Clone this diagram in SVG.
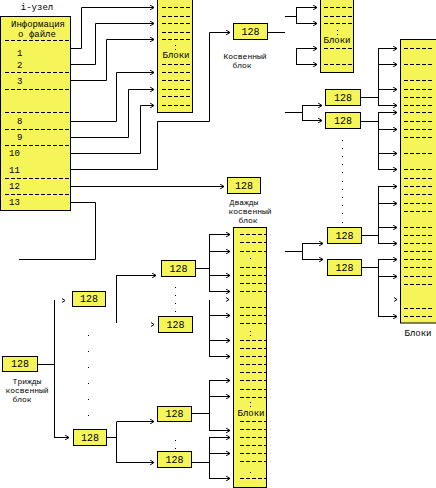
<svg xmlns="http://www.w3.org/2000/svg" width="436" height="488" viewBox="0 0 436 488">
<style>
.bx{fill:#f5f55a;stroke:#000;stroke-width:1}
.ds{stroke:#000;stroke-width:1;stroke-dasharray:4,2;fill:none}
.ln{fill:none;stroke:#000;stroke-width:1}
.ar{fill:none;stroke:#000;stroke-width:1;marker-end:url(#a)}
.ah{fill:none;stroke:#000;stroke-width:1}
.dt{fill:#000}
text{font-family:"Liberation Mono","DejaVu Sans Mono",monospace;fill:#000}
.n{font-size:10px;text-anchor:middle}
.s{font-size:9px}
.c{font-size:9px;text-anchor:middle}
.l{font-size:8px;text-anchor:middle}
</style>
<defs>
<marker id="a" viewBox="0 0 4 5" refX="4" refY="2.5" markerWidth="4" markerHeight="5" markerUnits="userSpaceOnUse" orient="auto">
<path d="M0,0 L4,2.5 L0,5" fill="none" stroke="#000" stroke-width="1"/>
</marker>
</defs>
<rect width="436" height="488" fill="#fff"/>

<g id="connectors">
<polyline class="ar" points="71,48.5 81.5,48.5 81.5,7.5 154,7.5"/>
<polyline class="ar" points="71,64.5 95.5,64.5 95.5,23.5 154,23.5"/>
<polyline class="ar" points="71,80.5 106.5,80.5 106.5,39.5 154,39.5"/>
<polyline class="ar" points="71,121.5 116.5,121.5 116.5,72.5 154,72.5"/>
<polyline class="ar" points="71,137.5 128.5,137.5 128.5,89.5 154,89.5"/>
<polyline class="ar" points="71,153.5 140.5,153.5 140.5,105.5 154,105.5"/>
<polyline class="ar" points="71,169.5 157.5,169.5 157.5,121.5 209.5,121.5 209.5,32.5 230,32.5"/>
<polyline class="ar" points="71,186.5 224,186.5"/>
<polyline class="ln" points="71,202.5 95.5,202.5 95.5,259.5 19,259.5"/>

<line class="ln" x1="268" y1="32.5" x2="285" y2="32.5"/>
<line class="ln" x1="285" y1="16.5" x2="296.5" y2="16.5"/>
<line class="ln" x1="296.5" y1="7" x2="296.5" y2="24"/>
<line class="ar" x1="296.5" y1="7.5" x2="317" y2="7.5"/>
<line class="ar" x1="296.5" y1="23.5" x2="317" y2="23.5"/>
<line class="ln" x1="296.5" y1="48" x2="296.5" y2="65"/>
<line class="ar" x1="296.5" y1="48.5" x2="317" y2="48.5"/>
<line class="ar" x1="296.5" y1="64.5" x2="317" y2="64.5"/>

<line class="ln" x1="285" y1="112.5" x2="302.5" y2="112.5"/>
<line class="ln" x1="302.5" y1="105" x2="302.5" y2="121"/>
<line class="ar" x1="302.5" y1="105.5" x2="322" y2="105.5"/>
<line class="ar" x1="302.5" y1="120.5" x2="322" y2="120.5"/>
<line class="ln" x1="361" y1="97.5" x2="378.5" y2="97.5"/>
<line class="ln" x1="378.5" y1="48" x2="378.5" y2="106"/>
<line class="ar" x1="378.5" y1="48.5" x2="397" y2="48.5"/>
<line class="ar" x1="378.5" y1="64.5" x2="397" y2="64.5"/>
<line class="ar" x1="378.5" y1="89.5" x2="397" y2="89.5"/>
<line class="ar" x1="378.5" y1="105.5" x2="397" y2="105.5"/>
<line class="ln" x1="361" y1="121.5" x2="378.5" y2="121.5"/>
<line class="ln" x1="378.5" y1="112" x2="378.5" y2="170"/>
<line class="ar" x1="378.5" y1="112.5" x2="397" y2="112.5"/>
<line class="ar" x1="378.5" y1="129.5" x2="397" y2="129.5"/>
<line class="ar" x1="378.5" y1="153.5" x2="397" y2="153.5"/>
<line class="ar" x1="378.5" y1="169.5" x2="397" y2="169.5"/>

<line class="ln" x1="285" y1="251.5" x2="302.5" y2="251.5"/>
<line class="ln" x1="302.5" y1="243" x2="302.5" y2="260"/>
<line class="ar" x1="302.5" y1="243.5" x2="323" y2="243.5"/>
<line class="ar" x1="302.5" y1="259.5" x2="323" y2="259.5"/>
<line class="ln" x1="362" y1="235.5" x2="378.5" y2="235.5"/>
<line class="ln" x1="378.5" y1="186" x2="378.5" y2="244"/>
<line class="ar" x1="378.5" y1="186.5" x2="397" y2="186.5"/>
<line class="ar" x1="378.5" y1="203.5" x2="397" y2="203.5"/>
<line class="ar" x1="378.5" y1="227.5" x2="397" y2="227.5"/>
<line class="ar" x1="378.5" y1="243.5" x2="397" y2="243.5"/>
<line class="ln" x1="362" y1="267.5" x2="378.5" y2="267.5"/>
<line class="ln" x1="378.5" y1="259" x2="378.5" y2="317"/>
<line class="ar" x1="378.5" y1="259.5" x2="397" y2="259.5"/>
<line class="ar" x1="378.5" y1="276.5" x2="397" y2="276.5"/>
<line class="ar" x1="378.5" y1="316.5" x2="397" y2="316.5"/>
<path class="ah" d="M394,297.5 L397,299.5 L394,301.5"/>

<line class="ln" x1="196" y1="268.5" x2="209.5" y2="268.5"/>
<line class="ln" x1="209.5" y1="234" x2="209.5" y2="292"/>
<line class="ar" x1="209.5" y1="234.5" x2="230" y2="234.5"/>
<line class="ar" x1="209.5" y1="251.5" x2="230" y2="251.5"/>
<line class="ar" x1="209.5" y1="275.5" x2="230" y2="275.5"/>
<line class="ar" x1="209.5" y1="291.5" x2="230" y2="291.5"/>
<path class="ah" d="M226,297.5 L229,299.5 L226,301.5"/>
<line class="ln" x1="209.5" y1="300" x2="209.5" y2="357"/>
<line class="ar" x1="209.5" y1="315.5" x2="230" y2="315.5"/>
<line class="ar" x1="209.5" y1="340.5" x2="230" y2="340.5"/>
<line class="ar" x1="209.5" y1="356.5" x2="230" y2="356.5"/>
<line class="ln" x1="192" y1="413.5" x2="209.5" y2="413.5"/>
<line class="ln" x1="209.5" y1="380" x2="209.5" y2="431"/>
<line class="ar" x1="209.5" y1="380.5" x2="230" y2="380.5"/>
<line class="ar" x1="209.5" y1="396.5" x2="230" y2="396.5"/>
<line class="ar" x1="209.5" y1="430.5" x2="230" y2="430.5"/>
<line class="ln" x1="192" y1="462.5" x2="209.5" y2="462.5"/>
<line class="ln" x1="209.5" y1="437" x2="209.5" y2="479"/>
<line class="ar" x1="209.5" y1="437.5" x2="230" y2="437.5"/>
<line class="ar" x1="209.5" y1="453.5" x2="230" y2="453.5"/>
<line class="ar" x1="209.5" y1="478.5" x2="230" y2="478.5"/>

<line class="ln" x1="116.5" y1="275" x2="116.5" y2="323"/>
<line class="ar" x1="116.5" y1="275.5" x2="156" y2="275.5"/>
<path class="ah" d="M151,322.5 L154,324.5 L151,326.5"/>
<line class="ln" x1="107" y1="437.5" x2="116.5" y2="437.5"/>
<line class="ln" x1="116.5" y1="422" x2="116.5" y2="463"/>
<line class="ar" x1="116.5" y1="421.5" x2="154" y2="421.5"/>
<line class="ar" x1="116.5" y1="462.5" x2="154" y2="462.5"/>

<line class="ln" x1="38" y1="364.5" x2="54.5" y2="364.5"/>
<line class="ln" x1="54.5" y1="300" x2="54.5" y2="438"/>
<path class="ah" d="M62,298.5 L65,300.5 L62,302.5"/>
<line class="ar" x1="54.5" y1="437.5" x2="69" y2="437.5"/>
</g>

<g id="inode">
<text class="c" x="37" y="10">i-узел</text>
<rect class="bx" x="0.5" y="16.5" width="70" height="194"/>
<text class="c" x="38" y="27">Информация</text>
<text class="c" x="37" y="37">о файле</text>
<line class="ds" x1="5" y1="40.5" x2="69" y2="40.5"/>
<line class="ds" x1="5" y1="72.5" x2="69" y2="72.5"/>
<line class="ds" x1="5" y1="89.5" x2="69" y2="89.5"/>
<line class="ds" x1="5" y1="112.5" x2="69" y2="112.5"/>
<line class="ds" x1="5" y1="129.5" x2="69" y2="129.5"/>
<line class="ds" x1="5" y1="145.5" x2="69" y2="145.5"/>
<line class="ds" x1="5" y1="178.5" x2="69" y2="178.5"/>
<line class="ds" x1="5" y1="194.5" x2="69" y2="194.5"/>
<text class="s" x="17" y="56">1</text>
<text class="s" x="17" y="68">2</text>
<text class="s" x="17" y="84">3</text>
<text class="s" x="17" y="124">8</text>
<text class="s" x="17" y="140">9</text>
<text class="s" x="9" y="156">10</text>
<text class="s" x="9" y="173">11</text>
<text class="s" x="9" y="189">12</text>
<text class="s" x="9" y="205">13</text>
</g>

<g id="direct-blocks">
<rect class="bx" x="157.5" y="-1" width="35" height="113.5"/>
<line class="ds" x1="162" y1="7.5" x2="190" y2="7.5"/>
<line class="ds" x1="162" y1="16.5" x2="190" y2="16.5"/>
<line class="ds" x1="162" y1="23.5" x2="190" y2="23.5"/>
<line class="ds" x1="162" y1="32.5" x2="190" y2="32.5"/>
<line class="ds" x1="162" y1="39.5" x2="190" y2="39.5"/>
<rect class="dt" x="175" y="45" width="1" height="1"/>
<rect class="dt" x="175" y="49" width="1" height="1"/>
<text class="c" x="176" y="58">Блоки</text>
<line class="ds" x1="162" y1="64.5" x2="190" y2="64.5"/>
<line class="ds" x1="162" y1="72.5" x2="190" y2="72.5"/>
<line class="ds" x1="162" y1="80.5" x2="190" y2="80.5"/>
<line class="ds" x1="162" y1="89.5" x2="190" y2="89.5"/>
<line class="ds" x1="162" y1="96.5" x2="190" y2="96.5"/>
<line class="ds" x1="162" y1="105.5" x2="190" y2="105.5"/>
</g>

<g id="indirect">
<rect class="bx" x="233.5" y="23.5" width="34" height="16"/>
<text class="n" x="250.5" y="35">128</text>
<text class="l" x="245" y="59">Косвенный</text>
<text class="l" x="242" y="68">блок</text>
</g>

<g id="blocks-2">
<rect class="bx" x="320.5" y="-1" width="33" height="73.5"/>
<line class="ds" x1="324" y1="7.5" x2="352" y2="7.5"/>
<line class="ds" x1="324" y1="16.5" x2="352" y2="16.5"/>
<line class="ds" x1="324" y1="23.5" x2="352" y2="23.5"/>
<rect class="dt" x="337" y="30" width="1" height="1"/>
<rect class="dt" x="337" y="34" width="1" height="1"/>
<text class="c" x="337" y="43">Блоки</text>
<line class="ds" x1="324" y1="48.5" x2="352" y2="48.5"/>
<line class="ds" x1="324" y1="64.5" x2="352" y2="64.5"/>
</g>

<g id="blocks-3">
<rect class="bx" x="400.5" y="39.5" width="37" height="283.5"/>
<line class="ds" x1="404" y1="48.5" x2="434" y2="48.5"/>
<line class="ds" x1="404" y1="64.5" x2="434" y2="64.5"/>
<line class="ds" x1="404" y1="80.5" x2="434" y2="80.5"/>
<line class="ds" x1="404" y1="89.5" x2="434" y2="89.5"/>
<line class="ds" x1="404" y1="97.5" x2="434" y2="97.5"/>
<line class="ds" x1="404" y1="105.5" x2="434" y2="105.5"/>
<line class="ds" x1="404" y1="112.5" x2="434" y2="112.5"/>
<line class="ds" x1="404" y1="121.5" x2="434" y2="121.5"/>
<line class="ds" x1="404" y1="129.5" x2="434" y2="129.5"/>
<line class="ds" x1="404" y1="137.5" x2="434" y2="137.5"/>
<line class="ds" x1="404" y1="153.5" x2="434" y2="153.5"/>
<line class="ds" x1="404" y1="169.5" x2="434" y2="169.5"/>
<line class="ds" x1="404" y1="178.5" x2="434" y2="178.5"/>
<line class="ds" x1="404" y1="186.5" x2="434" y2="186.5"/>
<line class="ds" x1="404" y1="194.5" x2="434" y2="194.5"/>
<line class="ds" x1="404" y1="203.5" x2="434" y2="203.5"/>
<line class="ds" x1="404" y1="211.5" x2="434" y2="211.5"/>
<line class="ds" x1="404" y1="227.5" x2="434" y2="227.5"/>
<line class="ds" x1="404" y1="235.5" x2="434" y2="235.5"/>
<line class="ds" x1="404" y1="243.5" x2="434" y2="243.5"/>
<line class="ds" x1="404" y1="251.5" x2="434" y2="251.5"/>
<line class="ds" x1="404" y1="259.5" x2="434" y2="259.5"/>
<line class="ds" x1="404" y1="267.5" x2="434" y2="267.5"/>
<line class="ds" x1="404" y1="276.5" x2="434" y2="276.5"/>
<line class="ds" x1="404" y1="284.5" x2="434" y2="284.5"/>
<line class="ds" x1="404" y1="308.5" x2="434" y2="308.5"/>
<line class="ds" x1="404" y1="316.5" x2="434" y2="316.5"/>
<text class="c" x="418" y="336">Блоки</text>
</g>

<g id="ind-a">
<rect class="bx" x="325.5" y="89.5" width="35" height="16"/>
<text class="n" x="343" y="101">128</text>
</g>
<g id="ind-b">
<rect class="bx" x="325.5" y="112.5" width="35" height="16"/>
<text class="n" x="343" y="124">128</text>
</g>
<g id="dots-right">
<rect class="dt" x="342" y="140" width="1" height="1"/>
<rect class="dt" x="342" y="148" width="1" height="1"/>
<rect class="dt" x="342" y="156" width="1" height="1"/>
<rect class="dt" x="342" y="164" width="1" height="1"/>
<rect class="dt" x="342" y="172" width="1" height="1"/>
<rect class="dt" x="342" y="181" width="1" height="1"/>
<rect class="dt" x="342" y="189" width="1" height="1"/>
<rect class="dt" x="342" y="197" width="1" height="1"/>
<rect class="dt" x="342" y="205" width="1" height="1"/>
<rect class="dt" x="342" y="213" width="1" height="1"/>
<rect class="dt" x="342" y="222" width="1" height="1"/>
</g>
<g id="ind-c">
<rect class="bx" x="327.5" y="227.5" width="34" height="16"/>
<text class="n" x="344.5" y="239">128</text>
</g>
<g id="ind-d">
<rect class="bx" x="327.5" y="259.5" width="34" height="16"/>
<text class="n" x="344.5" y="271">128</text>
</g>

<g id="double-indirect">
<rect class="bx" x="227.5" y="177.5" width="33" height="16"/>
<text class="n" x="244" y="189">128</text>
<text class="l" x="244" y="205">Дважды</text>
<text class="l" x="250" y="214">косвенный</text>
<text class="l" x="248" y="223">блок</text>
</g>

<g id="blocks-4">
<rect class="bx" x="233.5" y="227.5" width="33" height="260"/>
<line class="ds" x1="240" y1="234.5" x2="266" y2="234.5"/>
<line class="ds" x1="240" y1="242.5" x2="266" y2="242.5"/>
<line class="ds" x1="240" y1="251.5" x2="266" y2="251.5"/>
<rect class="dt" x="250" y="258" width="1" height="1"/>
<line class="ds" x1="240" y1="267.5" x2="266" y2="267.5"/>
<line class="ds" x1="240" y1="275.5" x2="266" y2="275.5"/>
<line class="ds" x1="240" y1="283.5" x2="266" y2="283.5"/>
<line class="ds" x1="240" y1="291.5" x2="266" y2="291.5"/>
<line class="ds" x1="240" y1="307.5" x2="266" y2="307.5"/>
<line class="ds" x1="240" y1="315.5" x2="266" y2="315.5"/>
<line class="ds" x1="240" y1="323.5" x2="266" y2="323.5"/>
<rect class="dt" x="250" y="331" width="1" height="1"/>
<rect class="dt" x="250" y="335" width="1" height="1"/>
<line class="ds" x1="240" y1="340.5" x2="266" y2="340.5"/>
<line class="ds" x1="240" y1="348.5" x2="266" y2="348.5"/>
<line class="ds" x1="240" y1="356.5" x2="266" y2="356.5"/>
<line class="ds" x1="240" y1="364.5" x2="266" y2="364.5"/>
<line class="ds" x1="240" y1="372.5" x2="266" y2="372.5"/>
<line class="ds" x1="240" y1="380.5" x2="266" y2="380.5"/>
<line class="ds" x1="240" y1="389.5" x2="266" y2="389.5"/>
<line class="ds" x1="240" y1="397.5" x2="266" y2="397.5"/>
<rect class="dt" x="250" y="402" width="1" height="1"/>
<rect class="dt" x="250" y="406" width="1" height="1"/>
<text class="c" x="251" y="416">Блоки</text>
<line class="ds" x1="240" y1="421.5" x2="266" y2="421.5"/>
<line class="ds" x1="240" y1="429.5" x2="266" y2="429.5"/>
<line class="ds" x1="240" y1="437.5" x2="266" y2="437.5"/>
<line class="ds" x1="240" y1="445.5" x2="266" y2="445.5"/>
<line class="ds" x1="240" y1="453.5" x2="266" y2="453.5"/>
<line class="ds" x1="240" y1="461.5" x2="266" y2="461.5"/>
<rect class="dt" x="250" y="472" width="1" height="1"/>
<line class="ds" x1="240" y1="478.5" x2="266" y2="478.5"/>
</g>

<g id="ind-e">
<rect class="bx" x="161.5" y="260.5" width="34" height="16"/>
<text class="n" x="178.5" y="272">128</text>
</g>
<g id="dots-mid">
<rect class="dt" x="175" y="287" width="1" height="1"/>
<rect class="dt" x="175" y="295" width="1" height="1"/>
<rect class="dt" x="175" y="303" width="1" height="1"/>
<rect class="dt" x="175" y="311" width="1" height="1"/>
<rect class="dt" x="175" y="440" width="1" height="1"/>
<rect class="dt" x="175" y="448" width="1" height="1"/>
</g>
<g id="ind-f">
<rect class="bx" x="158.5" y="316.5" width="34" height="16"/>
<text class="n" x="175.5" y="328">128</text>
</g>
<g id="ind-g">
<rect class="bx" x="157.5" y="406.5" width="34" height="15"/>
<text class="n" x="174.5" y="417">128</text>
</g>
<g id="ind-h">
<rect class="bx" x="157.5" y="451.5" width="34" height="16"/>
<text class="n" x="174.5" y="463">128</text>
</g>

<g id="dbl-j">
<rect class="bx" x="72.5" y="291.5" width="33" height="15"/>
<text class="n" x="89" y="302">128</text>
</g>
<g id="dots-left">
<rect class="dt" x="88" y="335" width="1" height="1"/>
<rect class="dt" x="88" y="351" width="1" height="1"/>
<rect class="dt" x="88" y="367" width="1" height="1"/>
<rect class="dt" x="88" y="383" width="1" height="1"/>
<rect class="dt" x="88" y="399" width="1" height="1"/>
<rect class="dt" x="88" y="415" width="1" height="1"/>
</g>
<g id="dbl-i">
<rect class="bx" x="73.5" y="429.5" width="33" height="16"/>
<text class="n" x="90" y="441">128</text>
</g>

<g id="triple-indirect">
<rect class="bx" x="2.5" y="356.5" width="35" height="15"/>
<text class="n" x="20" y="367">128</text>
<text class="l" x="27" y="384">Трижды</text>
<text class="l" x="27" y="393">косвенный</text>
<text class="l" x="22" y="402">блок</text>
</g>
</svg>
